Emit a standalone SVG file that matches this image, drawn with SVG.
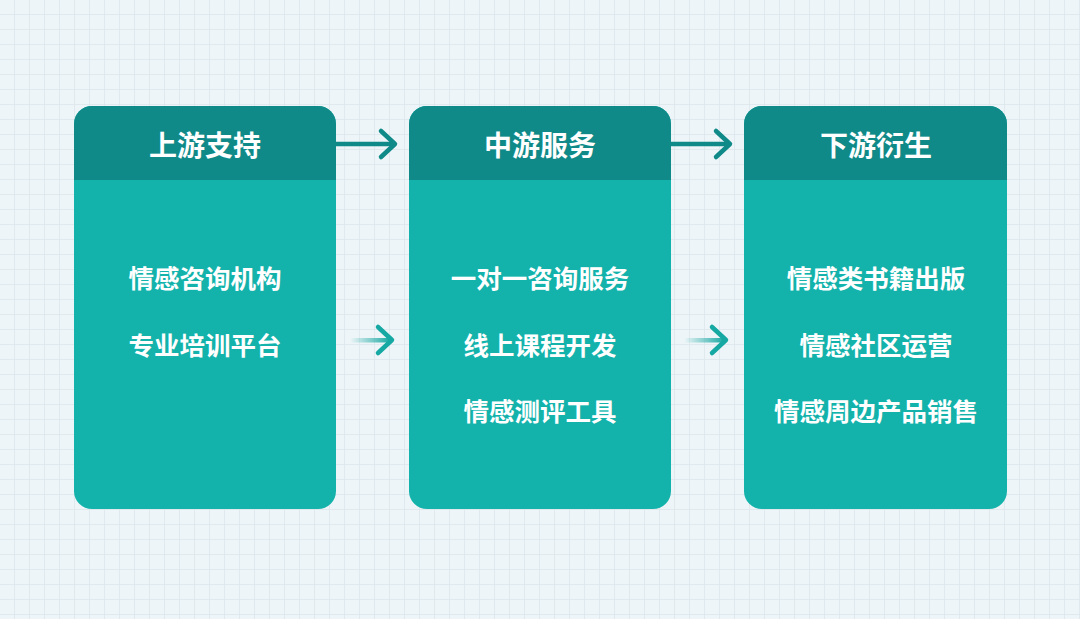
<svg xmlns="http://www.w3.org/2000/svg" width="1080" height="619" viewBox="0 0 1080 619">
<defs>
<pattern id="grid" width="15" height="15" patternUnits="userSpaceOnUse">
<rect width="15" height="15" fill="#eef5f8"/>
<path d="M15 0V15M0 15H15" stroke="#dbe6eb" stroke-width="1.4" fill="none"/>
</pattern>
<linearGradient id="fadeA" x1="0" y1="0" x2="1" y2="0">
<stop offset="0" stop-color="#16a8a2" stop-opacity="0"/>
<stop offset="1" stop-color="#16a8a2" stop-opacity="1"/>
</linearGradient>
<clipPath id="c1"><rect x="74" y="106" width="262" height="403" rx="18"/></clipPath>
<clipPath id="c2"><rect x="409" y="106" width="262" height="403" rx="18"/></clipPath>
<clipPath id="c3"><rect x="744" y="106" width="263" height="403" rx="18"/></clipPath>
</defs>
<style>
.body{fill:#13b2ab}
.head{fill:#108a88}
.ht{font-family:"Noto Sans CJK SC","Noto Sans",sans-serif;font-weight:700;font-size:28px;fill:#ffffff;text-anchor:middle;dominant-baseline:central}
.bt{font-family:"Noto Sans CJK SC","Noto Sans",sans-serif;font-weight:700;font-size:25.5px;fill:#ffffff;text-anchor:middle;dominant-baseline:central}
.arr{fill:none;stroke:#108a88;stroke-width:4.5;stroke-linecap:round;stroke-linejoin:round}
.arr2{fill:none;stroke:#16a8a2;stroke-width:4.5;stroke-linecap:round;stroke-linejoin:round}
</style>
<rect width="1080" height="619" fill="url(#grid)"/>
<g id="connectors">
<line x1="336" y1="144" x2="394" y2="144" class="arr" stroke-linecap="butt"/>
<polyline points="381,131 395,144 381,157" class="arr"/>
<line x1="671" y1="144" x2="729" y2="144" class="arr" stroke-linecap="butt"/>
<polyline points="716,131 730,144 716,157" class="arr"/>
<rect x="350" y="338" width="41" height="4.5" fill="url(#fadeA)"/>
<polyline points="378,327 392,340 378,353" class="arr2"/>
<rect x="684" y="338" width="41" height="4.5" fill="url(#fadeA)"/>
<polyline points="712,327 726,340 712,353" class="arr2"/>
</g>
<g id="upstream">
<g clip-path="url(#c1)">
<rect x="74" y="106" width="262" height="403" class="body"/>
<rect x="74" y="106" width="262" height="74" class="head"/>
</g>
<text x="205" y="144" class="ht">上游支持</text>
<text x="205" y="276" class="bt">情感咨询机构</text>
<text x="205" y="343" class="bt">专业培训平台</text>
</g>
<g id="midstream">
<g clip-path="url(#c2)">
<rect x="409" y="106" width="262" height="403" class="body"/>
<rect x="409" y="106" width="262" height="74" class="head"/>
</g>
<text x="540" y="144" class="ht">中游服务</text>
<text x="540" y="276" class="bt">一对一咨询服务</text>
<text x="540" y="343" class="bt">线上课程开发</text>
<text x="540" y="409" class="bt">情感测评工具</text>
</g>
<g id="downstream">
<g clip-path="url(#c3)">
<rect x="744" y="106" width="263" height="403" class="body"/>
<rect x="744" y="106" width="263" height="74" class="head"/>
</g>
<text x="876" y="144" class="ht">下游衍生</text>
<text x="876" y="276" class="bt">情感类书籍出版</text>
<text x="876" y="343" class="bt">情感社区运营</text>
<text x="876" y="409" class="bt">情感周边产品销售</text>
</g>
</svg>
